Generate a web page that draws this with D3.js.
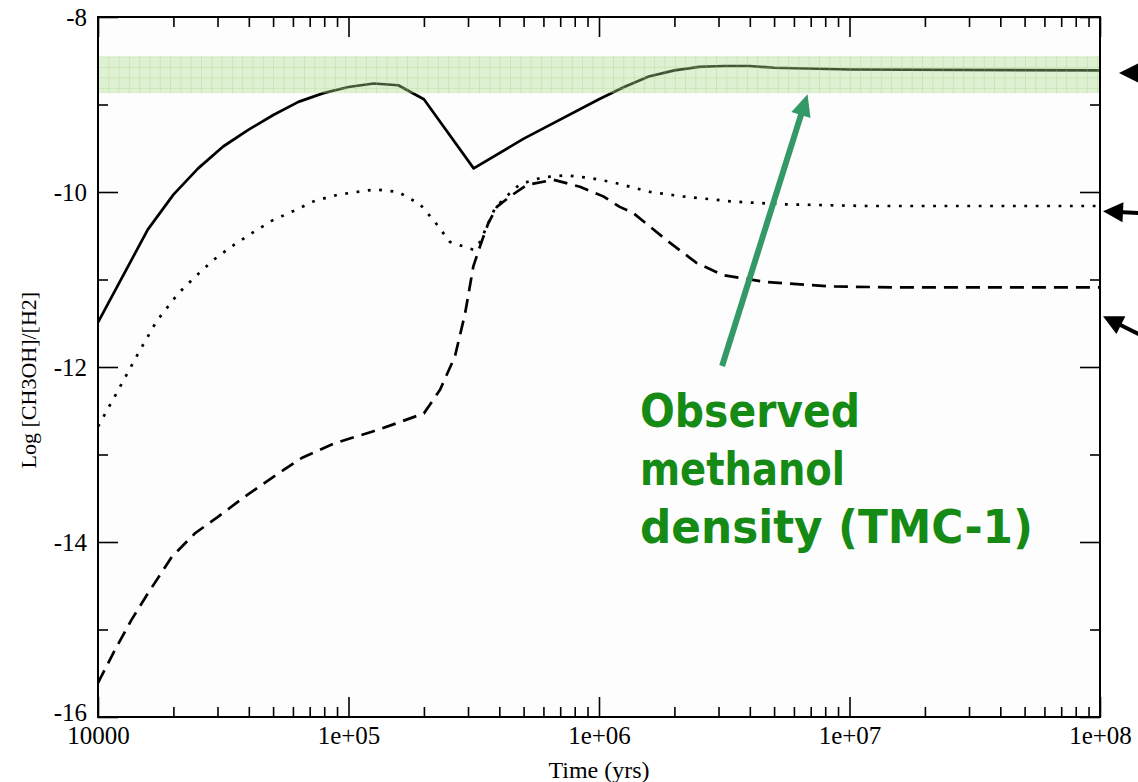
<!DOCTYPE html>
<html>
<head>
<meta charset="utf-8">
<script src="https://cdn.jsdelivr.net/npm/d3@7"></script>
<style>
  body { margin: 0; background: #fff; }
  svg { display: block; }
  .tick text { font-family: "Liberation Serif", "Times New Roman", serif !important; }
</style>
</head>
<body>
<div id="container"></div>
<script>
/* CONSTANTS AND GLOBALS */
const width = 1138;
const height = 782;
const margin = { left: 98, top: 17, right: 38, bottom: 65 };
const serif = "'Liberation Serif', 'Times New Roman', serif";

/* DATA */
// solid curve
const solidTime = [1e4, 1.58e4, 2e4, 2.51e4, 3.16e4, 3.98e4, 5.01e4, 6.31e4, 7.94e4, 1e5, 1.26e5, 1.58e5, 2e5, 3.16e5, 5.01e5, 1e6, 1.26e6, 1.58e6, 2e6, 2.51e6, 3.16e6, 3.98e6, 5.01e6, 1e7, 1e8];
const solidLog = [-11.49, -10.43, -10.03, -9.73, -9.48, -9.29, -9.12, -8.97, -8.87, -8.80, -8.76, -8.78, -8.94, -9.73, -9.39, -8.94, -8.80, -8.68, -8.61, -8.57, -8.56, -8.56, -8.58, -8.60, -8.61];

// dotted curve
const dottedTime = [1e4, 1.17e4, 1.45e4, 1.71e4, 2.09e4, 2.44e4, 2.88e4, 3.42e4, 4.11e4, 4.93e4, 6.11e4, 7.35e4, 9.1e4, 1.28e5, 1.58e5, 1.93e5, 2.21e5, 2.54e5, 3.15e5, 3.35e5, 3.85e5, 4.42e5, 4.84e5, 6.0e5, 7.43e5, 9.2e5, 1.14e6, 1.6e6, 2.16e6, 3.43e6, 5.43e6, 1.17e7, 1e8];
const dottedLog = [-12.68, -12.33, -11.84, -11.48, -11.16, -10.97, -10.78, -10.62, -10.47, -10.33, -10.21, -10.10, -10.03, -9.97, -10.00, -10.14, -10.34, -10.57, -10.66, -10.57, -10.18, -10.01, -9.91, -9.83, -9.81, -9.84, -9.89, -10.00, -10.05, -10.11, -10.14, -10.16, -10.16];

// dashed curve
const dashedTime = [1e4, 1.17e4, 1.36e4, 1.58e4, 1.97e4, 2.44e4, 3.02e4, 3.86e4, 4.93e4, 6.5e4, 8.83e4, 1.24e5, 1.53e5, 2e5, 2.32e5, 2.66e5, 2.92e5, 3.15e5, 3.35e5, 3.61e5, 3.91e5, 4.42e5, 5.14e5, 6.58e5, 8.39e5, 1.04e6, 1.21e6, 1.37e6, 1.86e6, 2.45e6, 3.13e6, 4.67e6, 8.59e6, 1.58e7, 1e8];
const dashedLog = [-15.61, -15.23, -14.89, -14.59, -14.17, -13.90, -13.71, -13.48, -13.27, -13.04, -12.87, -12.74, -12.65, -12.53, -12.26, -11.88, -11.39, -10.85, -10.62, -10.36, -10.17, -10.05, -9.92, -9.86, -9.94, -10.05, -10.17, -10.24, -10.55, -10.81, -10.95, -11.03, -11.08, -11.09, -11.09];

// observed methanol band (TMC-1)
const observedRange = [-8.87, -8.45];

// axes
const xMajorTicks = [1e4, 1e5, 1e6, 1e7, 1e8];
const xTickLabels = ["10000", "1e+05", "1e+06", "1e+07", "1e+08"];
const yMajorTicks = [-16, -14, -12, -10, -8];
const yTickLabels = ["-16", "-14", "-12", "-10", "-8"];
const yMinorTicks = [-15, -13, -11, -9];

/* HTML ELEMENTS */
const svg = d3.select("#container")
    .append("svg")
    .attr("width", width)
    .attr("height", height)

const innerW = width - margin.left - margin.right
const innerH = height - margin.top - margin.bottom

/* SCALES */
const xScale = d3.scaleLog()
    .domain([1e4, 1e8])
    .range([margin.left, margin.left + innerW])

const yScale = d3.scaleLinear()
    .domain([-16, -8])
    .range([margin.top + innerH, margin.top])

// grid pattern for the band
const defs = svg.append("defs")
const pat = defs.append("pattern")
    .attr("id", "grid")
    .attr("patternUnits", "userSpaceOnUse")
    .attr("width", 10.3)
    .attr("height", 10.5)
    .attr("x", margin.left)
    .attr("y", yScale(observedRange[1]))
pat.append("rect").attr("width", 10.3).attr("height", 10.5).attr("fill", "rgba(170,220,140,0.38)")
pat.append("path")
    .attr("d", "M0,0 V10.5 M0,0 H10.3")
    .attr("stroke", "rgba(150,205,110,0.55)")
    .attr("stroke-width", 1)

// plot background
svg.append("rect")
    .attr("x", margin.left).attr("y", margin.top)
    .attr("width", innerW).attr("height", innerH)
    .attr("fill", "#fdfdfd")

/* AXES */
const minorX = xScale.ticks().filter(d => !xMajorTicks.includes(d))

function tickGroup(axis, tx, ty) {
    const g = svg.append("g")
        .attr("transform", `translate(${tx},${ty})`)
        .call(axis)
        .attr("font-family", serif)
        .attr("font-size", 25)
    g.select(".domain").remove()
    g.selectAll("line").attr("stroke", "#000").attr("stroke-width", 1.6)
    g.selectAll("text")
        .style("font-family", serif)
        .style("font-size", "25px")
        .attr("fill", "#000")
    return g
}

// bottom
tickGroup(d3.axisBottom(xScale).tickValues(xMajorTicks).tickSize(-20).tickSizeOuter(0).tickPadding(9)
    .tickFormat((d, i) => xTickLabels[i]), 0, yScale(-16))
tickGroup(d3.axisBottom(xScale).tickValues(minorX).tickSize(-10).tickSizeOuter(0).tickFormat(""), 0, yScale(-16))
// top
tickGroup(d3.axisTop(xScale).tickValues(xMajorTicks).tickSize(-20).tickSizeOuter(0).tickFormat(""), 0, yScale(-8))
tickGroup(d3.axisTop(xScale).tickValues(minorX).tickSize(-10).tickSizeOuter(0).tickFormat(""), 0, yScale(-8))
// left
const yAxisG = tickGroup(d3.axisLeft(yScale).tickValues(yMajorTicks).tickSize(-20).tickSizeOuter(0).tickPadding(11)
    .tickFormat((d, i) => yTickLabels[i]), xScale(1e4), 0)
// lift the bottom label a bit so it clears "10000"
yAxisG.selectAll("text").filter(d => d === -16).attr("y", -5)
tickGroup(d3.axisLeft(yScale).tickValues(yMinorTicks).tickSize(-10).tickSizeOuter(0).tickFormat(""), xScale(1e4), 0)
// right
tickGroup(d3.axisRight(yScale).tickValues(yMajorTicks).tickSize(-20).tickSizeOuter(0).tickFormat(""), xScale(1e8), 0)
tickGroup(d3.axisRight(yScale).tickValues(yMinorTicks).tickSize(-10).tickSizeOuter(0).tickFormat(""), xScale(1e8), 0)

/* LINES */
const line = d3.line()
    .x(d => xScale(d[0]))
    .y(d => yScale(d[1]))

const series = [
    { t: solidTime, v: solidLog, dash: null },
    { t: dottedTime, v: dottedLog, dash: "2.8 8.6" },
    { t: dashedTime, v: dashedLog, dash: "14 8" }
]

svg.selectAll("path.curve")
    .data(series)
    .join("path")
    .attr("class", "curve")
    .attr("d", s => line(d3.zip(s.t, s.v)))
    .attr("fill", "none")
    .attr("stroke", "#000")
    .attr("stroke-width", 2.7)
    .attr("stroke-linejoin", "round")
    .attr("stroke-dasharray", s => s.dash)

// observed band, drawn on top (translucent)
svg.append("rect")
    .attr("x", xScale(1e4))
    .attr("y", yScale(observedRange[1]))
    .attr("width", xScale(1e8) - xScale(1e4))
    .attr("height", yScale(observedRange[0]) - yScale(observedRange[1]))
    .attr("fill", "url(#grid)")

// frame
svg.append("rect")
    .attr("x", margin.left).attr("y", margin.top)
    .attr("width", innerW).attr("height", innerH)
    .attr("fill", "none")
    .attr("stroke", "#000")
    .attr("stroke-width", 2)

/* AXIS TITLES */
svg.append("text")
    .attr("x", (xScale(1e4) + xScale(1e8)) / 2)
    .attr("y", 778)
    .attr("text-anchor", "middle")
    .style("font-family", serif)
    .style("font-size", "24px")
    .text("Time (yrs)")

svg.append("text")
    .attr("transform", `translate(36,${yScale(-12.15)}) rotate(-90)`)
    .attr("text-anchor", "middle")
    .style("font-family", serif)
    .style("font-size", "22px")
    .text("Log [CH3OH]/[H2]")

/* ANNOTATION */
const green = "#339966"
const ax0 = xScale(3.1e6), ay0 = 366
const ax1 = xScale(6.8e6), ay1 = yScale(observedRange[0]) + 1
const ang = Math.atan2(ay1 - ay0, ax1 - ax0)
const headLen = 22, headW = 10
svg.append("line")
    .attr("x1", ax0).attr("y1", ay0)
    .attr("x2", ax1 - headLen * 0.8 * Math.cos(ang)).attr("y2", ay1 - headLen * 0.8 * Math.sin(ang))
    .attr("stroke", green)
    .attr("stroke-width", 6)
const bx = ax1 - headLen * Math.cos(ang), by = ay1 - headLen * Math.sin(ang)
svg.append("path")
    .attr("d", `M${ax1},${ay1} L${bx + headW * Math.sin(ang)},${by - headW * Math.cos(ang)} L${bx - headW * Math.sin(ang)},${by + headW * Math.cos(ang)} Z`)
    .attr("fill", green)

const noteLines = ["Observed", "methanol", "density (TMC-1)"]
const noteWidths = [220, 205, 393]
svg.selectAll("text.note")
    .data(noteLines)
    .join("text")
    .attr("class", "note")
    .attr("x", 640)
    .attr("y", (d, i) => 427 + i * 58)
    .style("font-family", "'DejaVu Sans', sans-serif")
    .style("font-weight", "bold")
    .style("font-size", "46px")
    .attr("fill", "#158a15")
    .attr("textLength", (d, i) => noteWidths[i])
    .attr("lengthAdjust", "spacingAndGlyphs")
    .text(d => d)

// black pointer arrows on the right edge (cut off by the page)
const pointers = [
    { x0: 1175, y0: yScale(-8.64), x1: 1119, y1: yScale(-8.64) },
    { x0: 1175, y0: yScale(-10.26), x1: 1103, y1: yScale(-10.22) },
    { x0: 1175, y0: yScale(-11.83), x1: 1103, y1: yScale(-11.42) }
]
svg.selectAll("line.pointer")
    .data(pointers)
    .join("line")
    .attr("class", "pointer")
    .attr("x1", d => d.x0).attr("y1", d => d.y0)
    .attr("x2", d => d.x1 - 15 * Math.cos(Math.atan2(d.y1 - d.y0, d.x1 - d.x0)))
    .attr("y2", d => d.y1 - 15 * Math.sin(Math.atan2(d.y1 - d.y0, d.x1 - d.x0)))
    .attr("stroke", "#000")
    .attr("stroke-width", 4)
svg.selectAll("path.pointerHead")
    .data(pointers)
    .join("path")
    .attr("class", "pointerHead")
    .attr("d", d => {
        const a = Math.atan2(d.y1 - d.y0, d.x1 - d.x0)
        const L = 20, W = 10
        const cx = d.x1 - L * Math.cos(a), cy = d.y1 - L * Math.sin(a)
        return `M${d.x1},${d.y1} L${cx + W * Math.sin(a)},${cy - W * Math.cos(a)} L${cx - W * Math.sin(a)},${cy + W * Math.cos(a)} Z`
    })
    .attr("fill", "#000")
</script>
</body>
</html>
